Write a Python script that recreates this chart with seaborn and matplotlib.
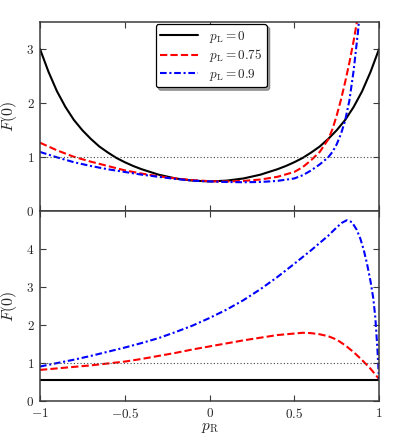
import numpy as np
import pandas as pd
import matplotlib
matplotlib.use("Agg")
import matplotlib.pyplot as plt
from matplotlib.ticker import FuncFormatter, FixedLocator
import seaborn as sns

# ---------------- data ----------------
labels = [r"$p_{\rm L} = 0$", r"$p_{\rm L} = 0.75$", r"$p_{\rm L} = 0.9$"]

# top panel
top_black_p = [-1, -0.95, -0.9, -0.85, -0.8, -0.75, -0.7, -0.65, -0.6, -0.55, -0.5, -0.45, -0.4,
               -0.3, -0.2, -0.1, 0, 0.1, 0.2, 0.3, 0.4, 0.45, 0.5, 0.55, 0.6, 0.65, 0.7, 0.75,
               0.8, 0.85, 0.9, 0.95, 1]
top_black_F = [3.0, 2.58, 2.22, 1.93, 1.69, 1.50, 1.34, 1.20, 1.09, 0.99, 0.91, 0.84, 0.78,
               0.68, 0.61, 0.57, 0.555, 0.57, 0.61, 0.68, 0.78, 0.84, 0.91, 0.99, 1.09, 1.20, 1.34, 1.50,
               1.69, 1.93, 2.22, 2.58, 3.0]

top_red_p = [-1, -0.9, -0.8, -0.7, -0.6, -0.5, -0.4, -0.3, -0.2, -0.1, 0, 0.1, 0.2, 0.3,
             0.4, 0.5, 0.55, 0.6, 0.65, 0.7, 0.725, 0.75, 0.775, 0.8, 0.825, 0.85, 0.875]
top_red_F = [1.27, 1.13, 1.01, 0.92, 0.84, 0.76, 0.70, 0.65, 0.61, 0.58, 0.56, 0.555, 0.565, 0.59,
             0.64, 0.73, 0.82, 0.95, 1.10, 1.33, 1.52, 1.77, 2.06, 2.39, 2.75, 3.15, 3.60]

top_blue_p = [-1, -0.9, -0.8, -0.7, -0.6, -0.5, -0.4, -0.3, -0.2, -0.1, 0, 0.1, 0.2, 0.3,
              0.4, 0.5, 0.55, 0.6, 0.65, 0.7, 0.725, 0.75, 0.775, 0.8, 0.825, 0.85, 0.875, 0.9]
top_blue_F = [1.10, 1.00, 0.91, 0.84, 0.78, 0.73, 0.68, 0.64, 0.60, 0.57, 0.555, 0.545, 0.54, 0.545,
              0.565, 0.61, 0.67, 0.76, 0.87, 1.00, 1.10, 1.24, 1.43, 1.68, 2.05, 2.60, 3.30, 4.10]

# bottom panel
bot_black_p = [-1, 1]
bot_black_F = [0.56, 0.56]

bot_red_p = [-1, -0.9, -0.8, -0.7, -0.6, -0.5, -0.4, -0.3, -0.2, -0.1, 0, 0.1, 0.2, 0.3,
             0.4, 0.5, 0.55, 0.6, 0.65, 0.7, 0.75, 0.8, 0.85, 0.9, 0.95, 1.0]
bot_red_F = [0.82, 0.86, 0.90, 0.94, 0.99, 1.04, 1.11, 1.19, 1.27, 1.36, 1.44, 1.52, 1.60, 1.67,
             1.74, 1.78, 1.80, 1.79, 1.76, 1.71, 1.62, 1.47, 1.29, 1.08, 0.85, 0.58]

bot_blue_p = [-1, -0.9, -0.8, -0.7, -0.6, -0.5, -0.4, -0.3, -0.2, -0.1, 0, 0.1, 0.2, 0.3,
              0.4, 0.5, 0.6, 0.7, 0.75, 0.78, 0.81, 0.84, 0.868, 0.89, 0.91, 0.93, 0.95, 0.966,
              0.978, 0.99, 1.0]
bot_blue_F = [0.91, 1.00, 1.09, 1.19, 1.30, 1.41, 1.53, 1.66, 1.82, 1.99, 2.19, 2.41, 2.66, 2.95,
              3.27, 3.62, 3.98, 4.36, 4.58, 4.70, 4.77, 4.72, 4.52, 4.28, 3.98, 3.60, 3.15, 2.71,
              2.20, 1.40, 0.56]

ref_p = [-1, 1]
ref_F = [1, 1]

xticks = [-1, -0.5, 0, 0.5, 1]
top_yticks = [0, 1, 2, 3]
bot_yticks = [0, 1, 2, 3, 4]

# ---------------- style ----------------
sns.set_style("ticks")
plt.rcParams["font.family"] = ["DejaVu Serif"]
plt.rcParams["mathtext.fontset"] = "cm"
TXT = "#262626"
SP = "#3a3a3a"

fig = plt.figure(figsize=(3.99, 4.46), dpi=100)
ax1 = fig.add_axes([0.1003, 0.5258, 0.8497, 0.4249])
ax2 = fig.add_axes([0.1003, 0.1009, 0.8497, 0.4249])

red_dash = (0, (3.5, 1.5))
blue_dash = (0, (3.2, 1.3, 1.0, 1.3))

def draw(ax, series):
    for (p, F, color, ls, lab) in series:
        df = pd.DataFrame({"p": p, "F": F})
        sns.lineplot(data=df, x="p", y="F", ax=ax, color=color, linestyle=ls,
                     linewidth=1.5, label=lab, estimator=None, sort=False, legend=False)
    dfr = pd.DataFrame({"p": ref_p, "F": ref_F})
    sns.lineplot(data=dfr, x="p", y="F", ax=ax, color="#444444", linestyle=(0, (1, 2)),
                 linewidth=0.8, estimator=None, legend=False)

draw(ax1, [(top_black_p, top_black_F, "black", "-", labels[0]),
           (top_red_p, top_red_F, "red", red_dash, labels[1]),
           (top_blue_p, top_blue_F, "blue", blue_dash, labels[2])])
draw(ax2, [(bot_black_p, bot_black_F, "black", "-", None),
           (bot_red_p, bot_red_F, "red", red_dash, None),
           (bot_blue_p, bot_blue_F, "blue", blue_dash, None)])

fmt = FuncFormatter(lambda v, _: r"$%g$" % v)
for ax, yt, ylim in [(ax1, top_yticks, (0, 3.5)), (ax2, bot_yticks, (0, 5))]:
    ax.set_xlim(-1, 1)
    ax.set_ylim(*ylim)
    ax.xaxis.set_major_locator(FixedLocator(xticks))
    ax.yaxis.set_major_locator(FixedLocator(yt))
    ax.xaxis.set_major_formatter(fmt)
    ax.yaxis.set_major_formatter(fmt)
    ax.tick_params(direction="in", top=True, right=True, length=4, width=0.8,
                   color=SP, labelsize=9.5, labelcolor=TXT, pad=4)
    for s in ax.spines.values():
        s.set_visible(True)
        s.set_color(SP)
        s.set_linewidth(1.1)
    ax.set_ylabel(r"$F(0)$", fontsize=11.5, color=TXT, labelpad=5)
    ax.set_xlabel("")

ax1.tick_params(labelbottom=False)
ax2.set_xlabel(r"$p_{\rm R}$", fontsize=11, color=TXT, labelpad=0)

leg = ax1.legend(loc="upper center", bbox_to_anchor=(0.505, 1.0), fontsize=9.5,
                 frameon=True, fancybox=True, shadow=True, framealpha=1,
                 handlelength=2.9, borderpad=0.35, labelspacing=0.2, handletextpad=0.8,
                 borderaxespad=0.15)
leg.get_frame().set_edgecolor("black")
leg.get_frame().set_linewidth(0.9)
for t in leg.get_texts():
    t.set_color(TXT)

fig.savefig("out.png", dpi=100)
